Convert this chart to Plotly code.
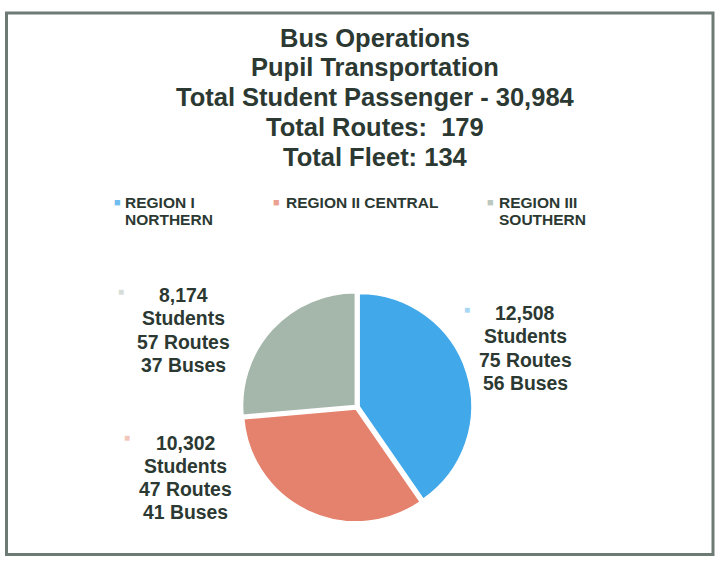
import plotly.graph_objects as go

# ── Data ─────────────────────────────────────────────────────────────────────
TITLE_LINES = [
    "Bus Operations",
    "Pupil Transportation",
    "Total Student Passenger - 30,984",
    "Total Routes:\u00a0 179",
    "Total Fleet: 134",
]
REGION_LINES = [["REGION I", "NORTHERN"], ["REGION II CENTRAL"], ["REGION III", "SOUTHERN"]]
REGIONS = [" ".join(r) for r in REGION_LINES]
STUDENTS = [12508, 10302, 8174]
ROUTES = [75, 47, 57]
BUSES = [56, 41, 37]
COLORS = ["#41a8ea", "#e5826d", "#a5b6aa"]

TEXT_COLOR = "#2b3932"
FONT = "Arial"
W, H = 718, 561


def px(x):
    return x / W


def py(y):
    return 1 - y / H


fig = go.Figure(
    go.Pie(
        labels=REGIONS,
        values=STUDENTS,
        sort=False,
        direction="clockwise",
        rotation=0,
        pull=[0.02, 0.02, 0.02],
        marker=dict(colors=COLORS, line=dict(color="white", width=1.5)),
        textinfo="none",
        hoverinfo="label+value",
        domain=dict(x=[px(242), px(472)], y=[py(522), py(292)]),
        showlegend=False,
    )
)

# ── Title lines ──────────────────────────────────────────────────────────────
title_y = [38, 67, 97, 127, 157]
for line, y in zip(TITLE_LINES, title_y):
    fig.add_annotation(
        x=px(375), y=py(y), xref="paper", yref="paper", text=f"<b>{line}</b>",
        showarrow=False, xanchor="center", yanchor="middle",
        font=dict(family=FONT, size=25.5, color=TEXT_COLOR),
    )

# ── Manual legend ────────────────────────────────────────────────────────────
leg_marker_x = [117, 276, 490]
leg_text_x = [123, 284, 497]
for lines, color, mx, tx in zip(REGION_LINES, COLORS, leg_marker_x, leg_text_x):
    fig.add_annotation(
        x=px(mx), y=py(202), xref="paper", yref="paper", text="■",
        showarrow=False, xanchor="center", yanchor="middle",
        font=dict(family=FONT, size=11, color=color), opacity=0.75,
    )
    for i, t in enumerate(lines):
        fig.add_annotation(
            x=px(tx), y=py(202 + i * 18), xref="paper", yref="paper",
            text=f"<b>{t}</b>",
            showarrow=False, xanchor="left", yanchor="middle",
            font=dict(family=FONT, size=15.5, color=TEXT_COLOR),
        )

# ── Slice labels ─────────────────────────────────────────────────────────────
label_x = [525, 186, 183]
label_y0 = [312.5, 443, 294.5]
label_step = [23.5, 23, 23.5]
marker_pos = [(467, 309), (127, 437), (121, 291)]
for s, r, b, color, lx, ly, step, (mx, my) in zip(
    STUDENTS, ROUTES, BUSES, COLORS, label_x, label_y0, label_step, marker_pos
):
    for i, t in enumerate([f"{s:,}", "Students", f"{r} Routes", f"{b} Buses"]):
        fig.add_annotation(
            x=px(lx), y=py(ly + i * step), xref="paper", yref="paper",
            text=f"<b>{t}</b>",
            showarrow=False, xanchor="center", yanchor="middle",
            font=dict(family=FONT, size=19.4, color=TEXT_COLOR),
        )
    fig.add_annotation(
        x=px(mx), y=py(my), xref="paper", yref="paper", text="■",
        showarrow=False, xanchor="center", yanchor="middle",
        font=dict(family=FONT, size=10, color=color), opacity=0.45,
    )

# ── Frame ────────────────────────────────────────────────────────────────────
fig.add_shape(
    type="rect", xref="paper", yref="paper",
    x0=px(6.5), x1=px(713), y0=py(554.5), y1=py(13),
    line=dict(color="#6e7b75", width=3),
)

fig.update_layout(
    width=W,
    height=H,
    margin=dict(t=0, b=0, l=0, r=0),
    paper_bgcolor="white",
    plot_bgcolor="white",
)

fig.write_html(
    "out.html",
    config={"displayModeBar": False},
    post_script="document.body.style.margin='0';",
)
